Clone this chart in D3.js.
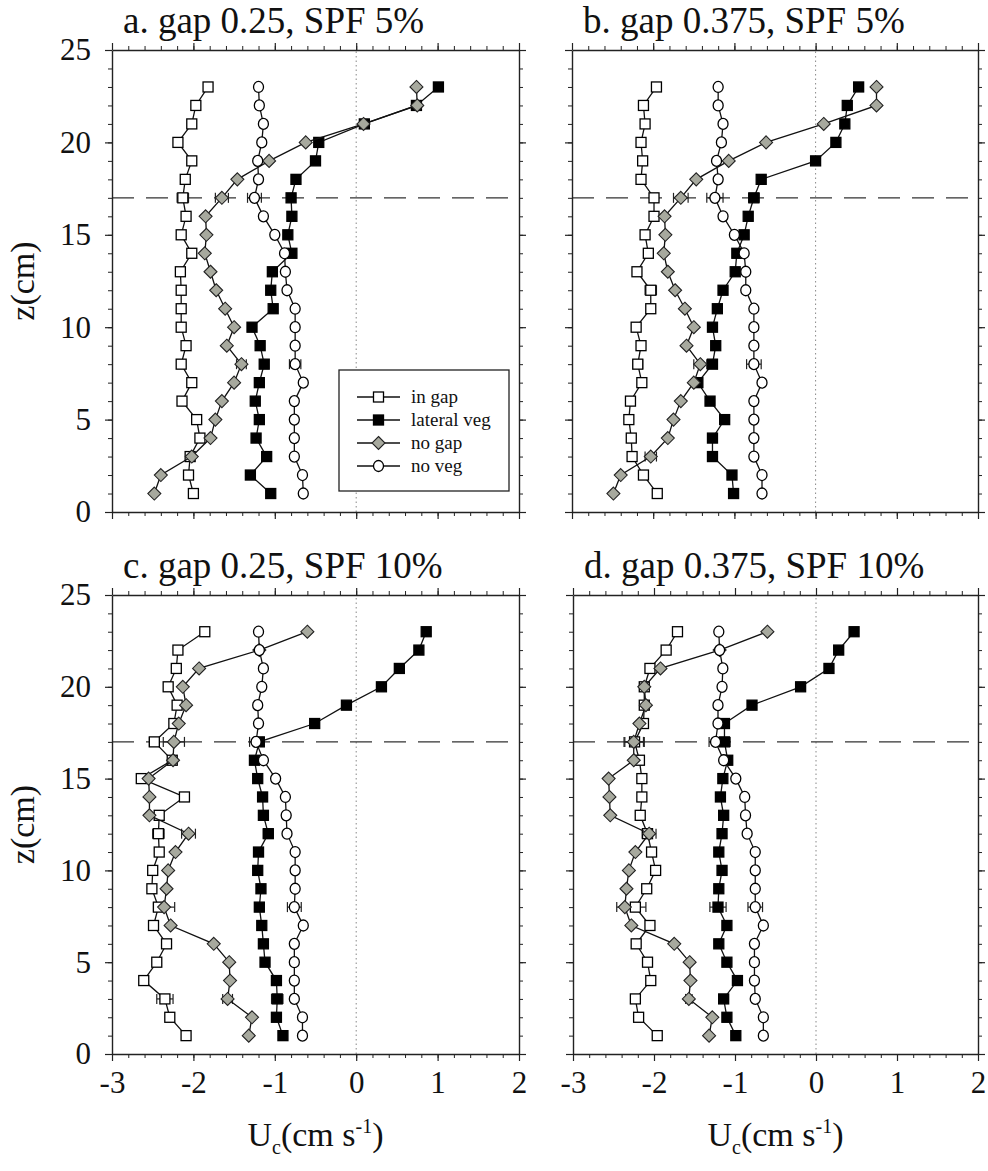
<!DOCTYPE html>
<html>
<head>
<meta charset="utf-8">
<script src="https://cdn.jsdelivr.net/npm/d3@7/dist/d3.min.js"></script>
<style>
  html, body { margin: 0; padding: 0; background: #fff; }
  svg { display: block; }
  text { font-family: "Liberation Serif", "Times New Roman", serif; fill: #111; }
</style>
</head>
<body>
<svg id="chart" width="988" height="1171"></svg>
<script>
// Heights (cm) at which velocity was measured
const heights = [1,2,3,4,5,6,7,8,9,10,11,12,13,14,15,16,17,18,19,20,21,22,23];

// Series names and legend order
const seriesNames = ["in gap", "lateral veg", "no gap", "no veg"];

// Panel titles
const panelTitles = ["a. gap 0.25, SPF 5%", "b. gap 0.375, SPF 5%", "c. gap 0.25, SPF 10%", "d. gap 0.375, SPF 10%"];

// Axis ticks
const xMajorTicks = [-3, -2, -1, 0, 1, 2];
const yMajorTicks = [0, 5, 10, 15, 20, 25];
const canopyHeight = 17;

// Mean velocity U_c (cm/s), z = 1..23
const aInGap   = [-2.00,-2.06,-2.04,-1.92,-1.96,-2.14,-2.02,-2.15,-2.09,-2.15,-2.15,-2.15,-2.16,-2.02,-2.15,-2.09,-2.13,-2.10,-2.02,-2.19,-2.02,-1.97,-1.82];
const aLateral = [-1.05,-1.30,-1.10,-1.23,-1.19,-1.24,-1.19,-1.13,-1.18,-1.28,-1.02,-1.05,-1.03,-0.79,-0.84,-0.79,-0.80,-0.74,-0.50,-0.46,0.10,0.74,1.01];
const aNoGap   = [-2.48,-2.40,-2.02,-1.79,-1.73,-1.65,-1.50,-1.41,-1.59,-1.50,-1.61,-1.72,-1.79,-1.86,-1.84,-1.85,-1.65,-1.46,-1.07,-0.62,0.09,0.75,0.74];
const aNoVeg   = [-0.65,-0.66,-0.76,-0.76,-0.76,-0.76,-0.65,-0.75,-0.75,-0.75,-0.75,-0.85,-0.87,-0.88,-1.00,-1.14,-1.25,-1.20,-1.21,-1.16,-1.14,-1.19,-1.20];

const bInGap   = [-1.95,-2.12,-2.26,-2.27,-2.30,-2.28,-2.14,-2.19,-2.15,-2.21,-2.03,-2.03,-2.20,-2.06,-2.10,-1.99,-1.99,-2.15,-2.13,-2.15,-2.10,-2.12,-1.96];
const bLateral = [-1.01,-1.03,-1.27,-1.27,-1.12,-1.30,-1.45,-1.27,-1.23,-1.27,-1.21,-1.14,-0.99,-0.97,-0.88,-0.83,-0.76,-0.67,0.00,0.25,0.36,0.39,0.53];
const bNoGap   = [-2.49,-2.40,-2.03,-1.82,-1.75,-1.66,-1.50,-1.42,-1.59,-1.50,-1.61,-1.73,-1.82,-1.87,-1.85,-1.86,-1.66,-1.47,-1.07,-0.61,0.10,0.75,0.75];
const bNoVeg   = [-0.66,-0.66,-0.76,-0.76,-0.76,-0.76,-0.66,-0.76,-0.76,-0.76,-0.76,-0.86,-0.86,-0.88,-1.00,-1.14,-1.24,-1.20,-1.22,-1.16,-1.14,-1.20,-1.20];

const cInGap   = [-2.09,-2.29,-2.35,-2.61,-2.45,-2.33,-2.49,-2.43,-2.51,-2.50,-2.42,-2.43,-2.42,-2.11,-2.64,-2.26,-2.48,-2.24,-2.20,-2.31,-2.21,-2.19,-1.86];
const cLateral = [-0.90,-0.98,-0.97,-0.98,-1.12,-1.14,-1.16,-1.19,-1.17,-1.21,-1.20,-1.08,-1.14,-1.15,-1.21,-1.25,-1.19,-0.51,-0.12,0.31,0.53,0.77,0.86];
const cNoGap   = [-1.32,-1.28,-1.58,-1.55,-1.56,-1.75,-2.28,-2.36,-2.33,-2.31,-2.22,-2.06,-2.54,-2.54,-2.55,-2.25,-2.24,-2.18,-2.09,-2.13,-1.93,-1.19,-0.60];
const cNoVeg   = [-0.66,-0.66,-0.76,-0.76,-0.76,-0.76,-0.65,-0.76,-0.75,-0.75,-0.75,-0.85,-0.86,-0.87,-0.99,-1.14,-1.23,-1.20,-1.21,-1.16,-1.14,-1.19,-1.20];

const dInGap   = [-1.96,-2.19,-2.23,-2.04,-2.08,-2.22,-2.05,-2.23,-2.09,-1.98,-2.03,-2.08,-2.17,-2.15,-2.15,-2.18,-2.24,-2.13,-2.12,-2.12,-2.05,-1.85,-1.71];
const dLateral = [-0.99,-1.10,-1.14,-0.97,-1.10,-1.20,-1.10,-1.21,-1.20,-1.16,-1.20,-1.16,-1.14,-1.18,-1.15,-1.09,-1.13,-1.13,-0.79,-0.19,0.16,0.28,0.47];
const dNoGap   = [-1.32,-1.28,-1.57,-1.55,-1.56,-1.75,-2.28,-2.36,-2.34,-2.31,-2.23,-2.06,-2.54,-2.55,-2.56,-2.25,-2.25,-2.18,-2.10,-2.12,-1.92,-1.19,-0.60];
const dNoVeg   = [-0.65,-0.65,-0.75,-0.76,-0.76,-0.76,-0.65,-0.75,-0.75,-0.75,-0.75,-0.85,-0.87,-0.88,-0.99,-1.14,-1.24,-1.21,-1.21,-1.16,-1.15,-1.19,-1.20];

// Standard errors: [series index, z, half-width]
const aErrors = [[0,17,0.07],[2,17,0.08],[3,17,0.085],[2,8,0.06],[3,8,0.07],[1,3,0.03]];
const bErrors = [[0,17,0.04],[2,17,0.09],[3,17,0.10],[1,17,0.065],[0,12,0.07],[0,8,0.06],[2,8,0.08],[1,8,0.06],[3,8,0.09],[2,3,0.07]];
const cErrors = [[0,17,0.06],[2,17,0.13],[3,17,0.08],[1,17,0.03],[0,12,0.07],[2,12,0.085],[1,12,0.06],[2,8,0.13],[3,8,0.085],[0,3,0.10],[2,3,0.06],[1,3,0.07]];
const dErrors = [[0,17,0.12],[2,17,0.12],[3,17,0.08],[1,17,0.07],[2,12,0.085],[1,12,0.04],[2,8,0.10],[0,8,0.13],[1,8,0.10],[3,8,0.09],[0,3,0.05],[2,3,0.04]];

const panelSeries = [
  [aInGap, aLateral, aNoGap, aNoVeg],
  [bInGap, bLateral, bNoGap, bNoVeg],
  [cInGap, cLateral, cNoGap, cNoVeg],
  [dInGap, dLateral, dNoGap, dNoVeg]
];
const panelErrors = [aErrors, bErrors, cErrors, dErrors];

// Panel frames in page pixels
const frames = [
  {x0: 112, x1: 519, y0: 50,  y1: 512,  leftLabels: true,  bottomLabels: false},
  {x0: 572, x1: 978, y0: 50,  y1: 512,  leftLabels: false, bottomLabels: false},
  {x0: 112, x1: 519, y0: 595, y1: 1054, leftLabels: true,  bottomLabels: true},
  {x0: 573, x1: 978, y0: 595, y1: 1054, leftLabels: false, bottomLabels: true}
];

const GREY = "#a7a99e";
const SERIF = '"Liberation Serif", "Times New Roman", serif';
const svg = d3.select("#chart");

const xMinor = d3.range(-3, 2.0001, 0.2).map(v => Math.round(v * 10) / 10);
const yMinor = d3.range(0, 26, 1);

function drawMarker(g, kind, cx, cy) {
  if (kind === 0 || kind === 1) {
    g.append("rect").attr("x", cx - 5).attr("y", cy - 5).attr("width", 10).attr("height", 10)
      .attr("fill", kind === 0 ? "#fff" : "#000").attr("stroke", "#000").attr("stroke-width", 1.3);
  } else if (kind === 2) {
    const r = 6.5;
    g.append("path").attr("d", `M${cx},${cy - r}L${cx + r},${cy}L${cx},${cy + r}L${cx - r},${cy}Z`)
      .attr("fill", GREY).attr("stroke", "#222").attr("stroke-width", 1.1);
  } else {
    g.append("ellipse").attr("cx", cx).attr("cy", cy).attr("rx", 5).attr("ry", 5.5)
      .attr("fill", "#fff").attr("stroke", "#000").attr("stroke-width", 1.3);
  }
}

frames.forEach((f, pi) => {
  const x = d3.scaleLinear().domain([-3, 2]).range([f.x0, f.x1]);
  const y = d3.scaleLinear().domain([0, 25]).range([f.y1, f.y0]);
  const g = svg.append("g");

  // zero-velocity reference (dotted)
  g.append("line").attr("x1", x(0)).attr("x2", x(0)).attr("y1", y(0)).attr("y2", y(25))
    .attr("stroke", "#888").attr("stroke-width", 1).attr("stroke-dasharray", "1.5,3");
  // canopy top (dashed)
  g.append("line").attr("x1", f.x0).attr("x2", f.x1).attr("y1", y(canopyHeight)).attr("y2", y(canopyHeight))
    .attr("stroke", "#333").attr("stroke-width", 1.2).attr("stroke-dasharray", "22,12");

  // axes with minor and major ticks on all four sides
  const axes = [
    {ax: d3.axisBottom(x), tr: `translate(0,${f.y1})`, minor: xMinor, major: xMajorTicks, labels: f.bottomLabels, pad: 10},
    {ax: d3.axisTop(x), tr: `translate(0,${f.y0})`, minor: xMinor, major: xMajorTicks, labels: false, pad: 10},
    {ax: d3.axisLeft(y), tr: `translate(${f.x0},0)`, minor: yMinor, major: yMajorTicks, labels: f.leftLabels, pad: 14},
    {ax: d3.axisRight(y), tr: `translate(${f.x1},0)`, minor: yMinor, major: yMajorTicks, labels: false, pad: 10}
  ];
  axes.forEach(a => {
    const minorG = g.append("g").attr("transform", a.tr)
      .call(a.ax.tickValues(a.minor).tickSize(4).tickSizeOuter(0).tickFormat(""));
    minorG.select(".domain").remove();
    minorG.selectAll("line").attr("stroke", "#222").attr("stroke-width", 1);
    const majorAxis = a.ax.tickValues(a.major).tickSize(7).tickSizeOuter(0).tickPadding(a.pad)
      .tickFormat(a.labels ? (d => String(d)) : "");
    const majorG = g.append("g").attr("transform", a.tr).call(majorAxis);
    majorG.select(".domain").attr("stroke", "#222").attr("stroke-width", 1.4);
    majorG.selectAll("line").attr("stroke", "#222").attr("stroke-width", 1.2);
    majorG.selectAll("text").attr("font-size", 31).attr("font-family", SERIF).attr("fill", "#111");
  });

  // title
  svg.append("text").attr("x", f.x0 + 11).attr("y", f.y0 - 17)
    .attr("font-size", 37).text(panelTitles[pi]);

  // error bars
  panelErrors[pi].forEach(([si, z, e]) => {
    const v = panelSeries[pi][si][heights.indexOf(z)];
    const yy = y(z);
    const eg = g.append("g").attr("stroke", "#222").attr("stroke-width", 1.2);
    eg.append("line").attr("x1", x(v - e)).attr("x2", x(v + e)).attr("y1", yy).attr("y2", yy);
    eg.append("line").attr("x1", x(v - e)).attr("x2", x(v - e)).attr("y1", yy - 5).attr("y2", yy + 5);
    eg.append("line").attr("x1", x(v + e)).attr("x2", x(v + e)).attr("y1", yy - 5).attr("y2", yy + 5);
  });

  // profiles
  const line = d3.line().x(d => x(d[0])).y(d => y(d[1]));
  panelSeries[pi].forEach((vals, si) => {
    const pts = vals.map((v, i) => [v, heights[i]]);
    const sg = g.append("g");
    sg.append("path").attr("d", line(pts)).attr("fill", "none").attr("stroke", "#111").attr("stroke-width", 1.3);
    pts.forEach(p => drawMarker(sg, si, x(p[0]), y(p[1])));
  });

  // axis titles
  if (f.leftLabels) {
    svg.append("text").attr("transform", `translate(34,${(f.y0 + f.y1) / 2}) rotate(-90)`)
      .attr("text-anchor", "middle").attr("font-size", 34).text("z(cm)");
  }
  if (f.bottomLabels) {
    const t = svg.append("text").attr("x", (f.x0 + f.x1) / 2).attr("y", f.y1 + 92)
      .attr("text-anchor", "middle").attr("font-size", 34);
    t.append("tspan").text("U");
    t.append("tspan").attr("font-size", 20).attr("dy", 8).text("c");
    t.append("tspan").attr("dy", -8).text("(cm s");
    t.append("tspan").attr("font-size", 20).attr("dy", -13).text("-1");
    t.append("tspan").attr("dy", 13).text(")");
  }
});

// legend in panel a
{
  const lg = svg.append("g").attr("transform", "translate(339,370)");
  lg.append("rect").attr("width", 170).attr("height", 121).attr("fill", "#fff")
    .attr("stroke", "#222").attr("stroke-width", 1.3);
  seriesNames.forEach((name, i) => {
    const yy = 27 + i * 23;
    lg.append("line").attr("x1", 18).attr("x2", 61).attr("y1", yy).attr("y2", yy)
      .attr("stroke", "#111").attr("stroke-width", 1.3);
    drawMarker(lg, i, 39.5, yy);
    lg.append("text").attr("x", 72).attr("y", yy + 6).attr("font-size", 19).text(name);
  });
}
</script>
</body>
</html>
